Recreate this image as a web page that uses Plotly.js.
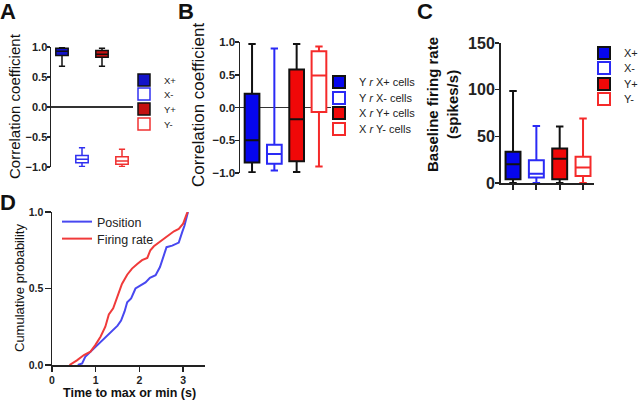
<!DOCTYPE html>
<html><head><meta charset="utf-8">
<script src="https://cdn.plot.ly/plotly-3.0.1.min.js"></script>
<style>html,body{margin:0;padding:0;background:#fff;overflow:hidden}#chart{width:640px;height:402px}</style>
</head><body><div id="chart"></div>
<script>
const FONT = 'Arial, "Liberation Sans", Helvetica, sans-serif';

// ---- Panel A: correlation coefficient by cell type ----
const catsA = ['X+', 'X-', 'Y+', 'Y-'];
const aLower  = [0.68, -0.99, 0.68, -0.99];
const aQ1     = [0.86, -0.93, 0.83, -0.955];
const aMedian = [0.93, -0.87, 0.88, -0.90];
const aQ3     = [0.98, -0.81, 0.94, -0.83];
const aUpper  = [1.00, -0.68, 0.98, -0.705];

// ---- Panel B: cross correlation ----
const catsB = ['Y r X+ cells', 'Y r X- cells', 'X r Y+ cells', 'X r Y- cells'];
const namesB = ['Y <i>r</i> X+ cells', 'Y <i>r</i> X- cells', 'X <i>r</i> Y+ cells', 'X <i>r</i> Y- cells'];
const bLower  = [-0.99, -0.96, -0.985, -0.90];
const bQ1     = [-0.84, -0.86, -0.82, -0.07];
const bMedian = [-0.50, -0.71, -0.18, 0.49];
const bQ3     = [0.21, -0.57, 0.58, 0.86];
const bUpper  = [0.97, 0.90, 0.97, 0.93];

// ---- Panel C: baseline firing rate (spikes/s) ----
const catsC = ['X+', 'X-', 'Y+', 'Y-'];
const cLower  = [0, 0, 0, 0];
const cQ1     = [4, 6, 4, 7.5];
const cMedian = [20, 10, 26, 16.5];
const cQ3     = [33.5, 24.5, 37, 28];
const cUpper  = [98.5, 61, 60.5, 69];

// ---- Panel D: cumulative probability ----
const posX = [0.59, 0.69, 0.76, 0.88, 0.99, 1.11, 1.22, 1.32, 1.43, 1.50, 1.58, 1.66, 1.72, 1.81, 1.91, 2.02, 2.14, 2.24, 2.37, 2.47, 2.54, 2.62, 2.75, 2.90, 2.98, 3.03, 3.11];
const posY = [0.00, 0.01, 0.054, 0.087, 0.12, 0.15, 0.18, 0.21, 0.24, 0.257, 0.29, 0.35, 0.41, 0.435, 0.50, 0.52, 0.54, 0.57, 0.587, 0.64, 0.695, 0.77, 0.78, 0.80, 0.87, 0.91, 1.00];
const frX = [0.40, 0.57, 0.73, 0.88, 0.99, 1.11, 1.22, 1.30, 1.40, 1.50, 1.60, 1.72, 1.83, 1.95, 2.06, 2.18, 2.25, 2.33, 2.44, 2.56, 2.67, 2.79, 2.90, 3.00, 3.09, 3.11];
const frY = [0.00, 0.03, 0.065, 0.087, 0.13, 0.185, 0.25, 0.33, 0.37, 0.45, 0.53, 0.59, 0.63, 0.66, 0.685, 0.70, 0.75, 0.776, 0.80, 0.83, 0.85, 0.874, 0.89, 0.924, 0.993, 1.00];

const W = 640, H = 402;
const px = v => v / W;
const py = v => 1 - v / H;

const styleA = [['#1212c8', '#111'], ['#ffffff', '#3030f0'], ['#c41010', '#111'], ['#ffffff', '#f03030']];
const styleB = [['#0606ee', '#111'], ['#ffffff', '#2a2af5'], ['#f00808', '#111'], ['#ffffff', '#f52a2a']];
const styleC = styleB;

const traces = [];
function addBoxes(cats, names, lo, q1, med, q3, up, styles, ax, ay, legBase, lw, width) {
  for (let i = 0; i < cats.length; i++) {
    traces.push({
      type: 'box', x: [cats[i]], q1: [q1[i]], median: [med[i]], q3: [q3[i]],
      lowerfence: [lo[i]], upperfence: [up[i]], name: names[i],
      xaxis: ax, yaxis: ay, boxpoints: false, width: width, whiskerwidth: 0.5,
      fillcolor: styles[i][0], line: {color: styles[i][1], width: lw},
      legend: 'legend' + (legBase + i === 1 ? '' : (legBase + i)),
      hoverinfo: 'skip'
    });
  }
}
addBoxes(catsA, catsA, aLower, aQ1, aMedian, aQ3, aUpper, styleA, 'x', 'y', 1, 1.5, 0.62);
addBoxes(catsB, namesB, bLower, bQ1, bMedian, bQ3, bUpper, styleB, 'x2', 'y2', 5, 2, 0.66);
addBoxes(catsC, catsC, cLower, cQ1, cMedian, cQ3, cUpper, styleC, 'x3', 'y3', 9, 2, 0.64);

traces.push({type: 'scatter', mode: 'lines', x: posX, y: posY, name: 'Position',
  xaxis: 'x4', yaxis: 'y4', line: {color: '#4848f0', width: 2}, legend: 'legend13', hoverinfo: 'skip'});
traces.push({type: 'scatter', mode: 'lines', x: frX, y: frY, name: 'Firing rate',
  xaxis: 'x4', yaxis: 'y4', line: {color: '#f03a3a', width: 2}, legend: 'legend14', hoverinfo: 'skip'});

function leg(xp, yp, size) {
  return {x: px(xp), y: py(yp), xanchor: 'left', yanchor: 'middle', bgcolor: 'rgba(0,0,0,0)',
    borderwidth: 0, font: {family: FONT, size: size, color: '#222'}, itemwidth: 30};
}
function hiddenX(domain, range, cats) {
  return {domain: domain, range: range, type: 'category', categoryorder: 'array', categoryarray: cats,
    showline: false, showticklabels: false, ticks: '', showgrid: false, zeroline: false, fixedrange: true};
}
function yAx(domain, range, tickvals, fmt, size, zl, tl, so) {
  return {domain: domain, range: range, tickvals: tickvals, tickformat: fmt, showgrid: false,
    showline: true, linecolor: '#222', linewidth: 1.5, ticks: 'outside', ticklen: tl, tickwidth: 1.5,
    tickcolor: '#222', tickfont: {family: FONT, size: size, color: '#222', weight: 700},
    zeroline: zl, zerolinecolor: '#333', zerolinewidth: 1.5, fixedrange: true, ticklabelstandoff: so};
}

const layout = {
  width: W, height: H, margin: {l: 0, r: 0, t: 0, b: 0, autoexpand: false}, paper_bgcolor: '#fff', plot_bgcolor: 'rgba(0,0,0,0)',
  font: {family: FONT, color: '#222'}, showlegend: true, boxmode: 'overlay',
  xaxis: hiddenX([px(51), px(133)], [-0.55, 3.55], catsA),
  yaxis: yAx([1 - 167 / H, 1 - 47 / H], [-1, 1], [-1, -0.5, 0, 0.5, 1], '.1f', 11, true, 3, -3),
  xaxis2: hiddenX([px(240), px(331)], [-0.54, 3.54], catsB),
  yaxis2: Object.assign(yAx([1 - 173 / H, 1 - 42 / H], [-1, 1], [-1, -0.5, 0, 0.5, 1], '.1f', 11.5, true, 4, -3), {anchor: 'x2'}),
  xaxis3: Object.assign(hiddenX([px(501), px(594)], [-0.515, 3.47], catsC),
    {showline: true, linecolor: '#222', linewidth: 2, ticks: 'outside', ticklen: 5, tickwidth: 2, tickcolor: '#222', anchor: 'y3'}),
  yaxis3: Object.assign(yAx([1 - 183 / H, 1 - 43 / H], [0, 150], [0, 50, 100, 150], 'd', 16, false, 4, -3), {anchor: 'x3', linewidth: 2}),
  xaxis4: {domain: [px(52), px(205)], range: [0, 3.5], tickvals: [0, 1, 2, 3], showgrid: false, zeroline: false,
    showline: true, linecolor: '#222', linewidth: 1.5, ticks: 'outside', ticklen: 5, tickwidth: 1.5, tickcolor: '#222',
    tickfont: {family: FONT, size: 10.5, color: '#222', weight: 700}, anchor: 'y4', fixedrange: true},
  yaxis4: Object.assign(yAx([1 - 365 / H, 1 - 212 / H], [0, 1], [0, 0.5, 1], '.1f', 10.5, false, 6, -1), {anchor: 'x4'}),
  legend: leg(124, 80, 9.5), legend2: leg(124, 94, 9.5), legend3: leg(124, 109, 9.5), legend4: leg(124, 124, 9.5),
  legend5: leg(319, 82, 11), legend6: leg(319, 98, 11), legend7: leg(319, 113, 11), legend8: leg(319, 129, 11),
  legend9: leg(584, 53, 11), legend10: leg(584, 68, 11), legend11: leg(584, 84, 11), legend12: leg(584, 99, 11),
  legend13: leg(57, 222, 12.5), legend14: leg(57, 239, 12.5),
  annotations: [
    {text: 'A', x: px(8), y: py(12), font: {size: 22, weight: 700}},
    {text: 'B', x: px(186), y: py(12), font: {size: 22, weight: 700}},
    {text: 'C', x: px(425), y: py(12), font: {size: 22, weight: 700}},
    {text: 'D', x: px(8), y: py(202), font: {size: 22, weight: 700}},
    {text: 'Correlation coefficient', x: px(14), y: py(106), textangle: -90, font: {size: 15}},
    {text: 'Correlation coefficient', x: px(199), y: py(105), textangle: -90, font: {size: 17}},
    {text: 'Baseline firing rate<br>(spikes/s)', x: px(443), y: py(105), textangle: -90, font: {size: 15, weight: 700}},
    {text: 'Cumulative probability', x: px(19), y: py(288), textangle: -90, font: {size: 13}},
    {text: 'Time to max or min (s)', x: px(129), y: py(393), font: {size: 12.5, weight: 700}}
  ].map(a => Object.assign({xref: 'paper', yref: 'paper', showarrow: false, xanchor: 'center', yanchor: 'middle'}, a,
        {font: Object.assign({family: FONT, color: '#111'}, a.font)}))
};

Plotly.newPlot('chart', traces, layout, {staticPlot: true, displayModeBar: false});
</script>
</body></html>
